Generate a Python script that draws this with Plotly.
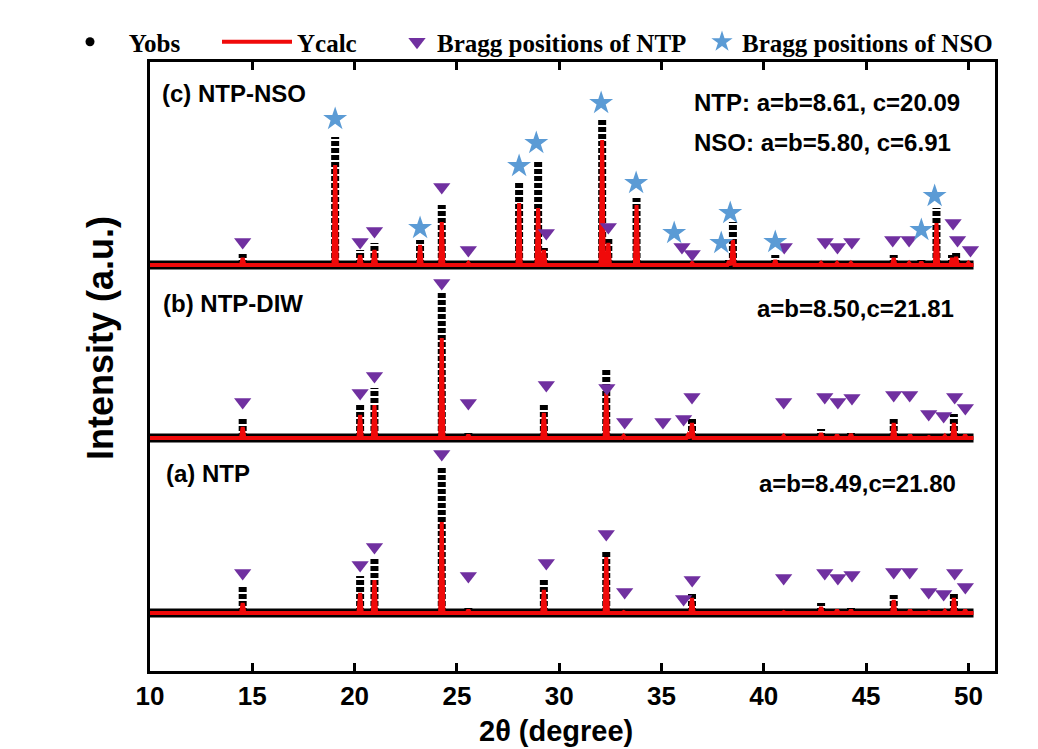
import plotly.graph_objects as go

# ---------------- data (heights above each pattern's baseline, arbitrary units) -------------
# Panel (c) NTP-NSO
c_peak_pos  = [14.53, 19.05, 20.27, 20.97, 23.20, 24.26, 25.56, 28.04, 28.97, 29.25, 32.10, 32.40,
               33.78, 36.50, 38.30, 38.49, 40.56, 42.80, 43.58, 44.26, 46.35, 47.10, 47.70, 48.44,
               49.20, 49.40, 50.00]
c_obs       = [11, 128, 15, 22, 25, 60, 3, 83, 105, 17, 147, 28,
               67, 2, 6, 43, 10, 3, 3, 3, 10, 3, 5, 57,
               10, 12, 3]
c_calc      = [7, 100, 10, 15, 20, 43, 2, 62, 57, 15, 125, 22,
               60, 2, 4, 25, 5, 2, 2, 2, 7, 2, 3, 42,
               7, 8, 2]
c_ntp_pos   = [14.53, 20.27, 20.97, 24.26, 25.56, 29.37, 32.40, 36.00, 36.50, 41.00, 43.00, 43.60,
               44.30, 46.30, 47.10, 49.25, 49.47, 50.10]
c_ntp_h     = [23, 23, 34, 78, 15, 32, 38, 18, 11, 18, 23, 18,
               23, 25, 25, 42, 25, 15]
c_nso_pos   = [19.05, 23.20, 28.04, 28.88, 32.05, 33.76, 35.62, 37.92, 38.36, 40.56, 47.70, 48.35]
c_nso_h     = [146, 37, 99, 122, 162, 82, 32, 22, 52, 23, 35, 69]

# Panel (b) NTP-DIW
b_peak_pos  = [14.53, 20.27, 20.97, 24.26, 25.56, 29.25, 32.30, 33.15, 35.07, 36.30, 36.49, 40.97,
               42.80, 43.58, 44.26, 46.35, 47.15, 48.07, 48.85, 49.29, 49.84]
b_obs       = [21, 35, 50, 145, 6, 35, 68, 3, 2, 4, 21, 3,
               9, 4, 6, 20, 4, 2, 3, 24, 4]
b_calc      = [11, 23, 33, 100, 3, 25, 45, 2, 1, 3, 15, 2,
               5, 3, 4, 15, 3, 1, 2, 15, 3]
b_ntp_pos   = [14.53, 20.27, 20.97, 24.26, 25.56, 29.37, 32.33, 33.20, 35.07, 36.08, 36.49, 40.97,
               42.98, 43.62, 44.31, 46.35, 47.13, 48.06, 48.79, 49.33, 49.85]
b_ntp_h     = [36, 45, 62, 155, 35, 53, 50, 16, 16, 19, 41, 36,
               41, 36, 40, 43, 43, 24, 22, 41, 30]

# Panel (a) NTP
a_peak_pos  = [14.53, 20.27, 20.97, 24.26, 25.56, 29.25, 32.30, 33.15, 36.30, 36.49, 40.97, 42.80,
               43.58, 44.26, 46.35, 47.15, 48.07, 48.85, 49.29, 49.84]
a_obs       = [26, 37, 55, 145, 5, 33, 63, 2, 2, 20, 2, 10,
               4, 5, 18, 4, 2, 3, 21, 4]
a_calc      = [10, 20, 33, 91, 3, 23, 56, 1, 1, 15, 1, 6,
               3, 3, 13, 3, 1, 2, 15, 3]
a_ntp_pos   = [14.53, 20.27, 20.97, 24.26, 25.56, 29.37, 32.30, 33.20, 36.08, 36.50, 40.97, 42.98,
               43.62, 44.31, 46.35, 47.13, 48.06, 48.79, 49.33, 49.85]
a_ntp_h     = [40, 48, 66, 159, 37, 50, 79, 21, 14, 33, 35, 40,
               35, 38, 41, 41, 21, 19, 40, 26]

x_ticks = [10, 15, 20, 25, 30, 35, 40, 45, 50]
x_major = [20, 30, 40, 50]

# ---------------- layout constants ----------------
SCAN_START, SCAN_END = 10.0, 50.25
HALF_W = 0.08
BASE = {"a": 58, "b": 233, "c": 406}
RED = "#f00a0a"
PURPLE = "#7030a0"
BLUE = "#5b9bd5"
SANS = "Liberation Sans, Arial, sans-serif"
SERIF = "Liberation Serif, Times New Roman, serif"
NB = "\u00a0"

fig = go.Figure()


def calc_xy(pos, calc, base):
    xs, ys = [SCAN_START], [base]
    for p, h in sorted(zip(pos, calc)):
        xs += [p - HALF_W, p, p + HALF_W]
        ys += [base, base + h, base]
    xs.append(SCAN_END)
    ys.append(base)
    return xs, ys


def obs_xy(pos, obs, base):
    xs, ys = [], []
    for p, h in zip(pos, obs):
        xs += [p, p, None]
        ys += [base, base + h, None]
    return xs, ys


panels = [
    ("c", c_peak_pos, c_obs, c_calc, c_ntp_pos, c_ntp_h),
    ("b", b_peak_pos, b_obs, b_calc, b_ntp_pos, b_ntp_h),
    ("a", a_peak_pos, a_obs, a_calc, a_ntp_pos, a_ntp_h),
]

first = True
for key, pos, obs, calc, tpos, th in panels:
    base = BASE[key]
    # observed: dense dots merge into a thick baseline, and stack as columns at peaks
    fig.add_trace(go.Scatter(x=[SCAN_START, SCAN_END], y=[base, base], mode="lines",
                             line=dict(color="black", width=9), showlegend=False,
                             legendgroup="obs", hoverinfo="skip"))
    ox, oy = obs_xy(pos, obs, base)
    fig.add_trace(go.Scatter(x=ox, y=oy, mode="lines", connectgaps=False,
                             line=dict(color="black", width=8, dash="5px,2px"),
                             showlegend=False, legendgroup="obs", name="Yobs"))
    cx, cy = calc_xy(pos, calc, base)
    fig.add_trace(go.Scatter(x=cx, y=cy, mode="lines", line=dict(color=RED, width=4),
                             name="Ycalc", legend="legend2", showlegend=first))
    fig.add_trace(go.Scatter(x=tpos, y=[base + h for h in th], mode="markers",
                             marker=dict(symbol="triangle-down", size=15, color=PURPLE),
                             name="Bragg positions of NTP", legend="legend3", showlegend=first))
    first = False

fig.add_trace(go.Scatter(x=c_nso_pos, y=[BASE["c"] + h for h in c_nso_h], mode="markers",
                         marker=dict(symbol="star", size=18, color=BLUE),
                         name="Bragg positions of NSO", legend="legend4"))

# legend-only symbol for the observed dots
fig.add_trace(go.Scatter(x=[None], y=[None], mode="markers",
                         marker=dict(color="black", size=9),
                         name=NB * 3 + "Yobs", legend="legend", legendgroup="obs"))

# The page body adds an 8 px offset, so the figure is 8 px smaller and shifted.
OFF = 8
FIG_W, FIG_H = 1038 - OFF, 749 - OFF
PLOT_L, PLOT_R, PLOT_T, PLOT_B = 150, 995, 62, 671   # in page pixels
PW, PH = float(PLOT_R - PLOT_L), float(PLOT_B - PLOT_T)


def px_x(px):
    return (px - PLOT_L) / PW


def px_y(py):
    return (PLOT_B - py) / PH


leg_font = dict(family=SERIF, size=25, color="black", weight="bold")
common = dict(yanchor="middle", xanchor="left", y=px_y(42), bgcolor="rgba(0,0,0,0)",
              borderwidth=0, font=leg_font, orientation="h")

ann_font = dict(family=SANS, size=24, color="black", weight="bold")
annotations = []
for text, xd, yd in [("(c) NTP-NSO", 10.49, 671 - 93),
                     ("NTP: a=b=8.61, c=20.09", 36.5, 671 - 102),
                     ("NSO: a=b=5.80, c=6.91", 36.5, 671 - 142),
                     ("(b) NTP-DIW", 10.54, 671 - 303),
                     ("a=b=8.50,c=21.81", 39.58, 671 - 308),
                     ("(a) NTP", 10.68, 671 - 473),
                     ("a=b=8.49,c=21.80", 39.68, 671 - 483)]:
    annotations.append(dict(text=text, x=xd, y=yd, xref="x", yref="y", xanchor="left",
                            yanchor="middle", showarrow=False, font=ann_font))

# axis titles (placed where the reference puts them)
annotations.append(dict(text="2θ (degree)", x=px_x(556), y=px_y(731), xref="paper", yref="paper",
                        xanchor="center", yanchor="middle", showarrow=False,
                        font=dict(family=SANS, size=29, color="black", weight="bold")))
annotations.append(dict(text="Intensity (a.u.)", x=px_x(100), y=px_y(338), xref="paper",
                        yref="paper", xanchor="center", yanchor="middle", textangle=-90,
                        showarrow=False,
                        font=dict(family=SANS, size=36, color="black", weight="bold")))

fig.update_layout(
    width=FIG_W, height=FIG_H,
    margin=dict(l=PLOT_L - OFF, r=FIG_W - (PLOT_R - OFF), t=PLOT_T - OFF,
                b=FIG_H - (PLOT_B - OFF), autoexpand=False),
    paper_bgcolor="white", plot_bgcolor="white",
    showlegend=True,
    legend=dict(common, x=px_x(70)),
    legend2=dict(common, x=px_x(217), itemwidth=70),
    legend3=dict(common, x=px_x(397)),
    legend4=dict(common, x=px_x(702)),
    annotations=annotations,
    xaxis=dict(range=[10, 51.3], tickvals=x_ticks, ticktext=[str(v) for v in x_ticks],
               ticks="inside", ticklen=8, tickwidth=3, tickcolor="black",
               showline=True, linewidth=3, linecolor="black", mirror="allticks",
               showgrid=False, zeroline=False, ticklabelstandoff=0,
               tickfont=dict(family=SANS, size=26, color="black", weight="bold")),
    xaxis2=dict(range=[10, 51.3], overlaying="x", anchor="y", side="bottom",
                tickvals=x_major, ticks="inside", ticklen=15, tickwidth=3, tickcolor="black",
                showticklabels=False, showline=False, showgrid=False, zeroline=False),
    yaxis=dict(range=[0, 609], showticklabels=False, ticks="", showgrid=False, zeroline=False,
               showline=True, linewidth=3, linecolor="black", mirror=True),
)

fig.write_html("out.html")
